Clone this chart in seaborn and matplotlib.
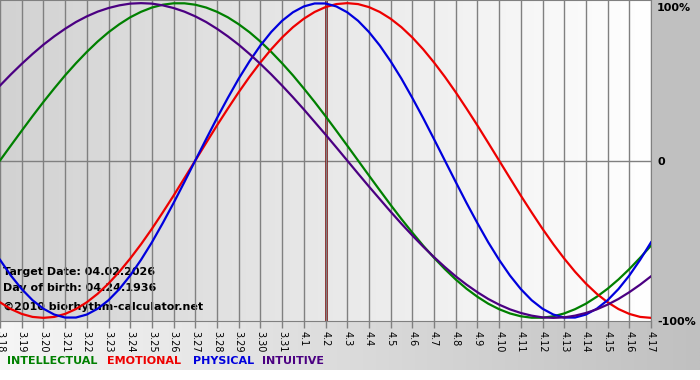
import numpy as np
import pandas as pd
import matplotlib.pyplot as plt
import seaborn as sns
from matplotlib.colors import LinearSegmentedColormap
from matplotlib.patches import Rectangle

# day labels (month.day) shown along the bottom
days = ["3.18", "3.19", "3.20", "3.21", "3.22", "3.23", "3.24", "3.25", "3.26", "3.27",
        "3.28", "3.29", "3.30", "3.31", "4.1", "4.2", "4.3", "4.4", "4.5", "4.6",
        "4.7", "4.8", "4.9", "4.10", "4.11", "4.12", "4.13", "4.14", "4.15", "4.16", "4.17"]
target = "4.2"

# cycle values (-1 .. 1) every half day, starting at 3.18
intellectual = [0.000, 0.095, 0.189, 0.282, 0.372, 0.458, 0.541, 0.618, 0.690, 0.756,
                0.815, 0.866, 0.910, 0.945, 0.972, 0.990, 0.999, 0.999, 0.990, 0.972,
                0.945, 0.910, 0.866, 0.815, 0.756, 0.690, 0.618, 0.541, 0.458, 0.372,
                0.282, 0.189, 0.095, 0.000, -0.095, -0.189, -0.282, -0.372, -0.458,
                -0.541, -0.618, -0.690, -0.756, -0.815, -0.866, -0.910, -0.945, -0.972,
                -0.990, -0.999, -0.999, -0.990, -0.972, -0.945, -0.910, -0.866, -0.815,
                -0.756, -0.690, -0.618, -0.541]
emotional = [-0.901, -0.944, -0.975, -0.994, -1.000, -0.994, -0.975, -0.944, -0.901,
             -0.847, -0.782, -0.707, -0.623, -0.532, -0.434, -0.330, -0.223, -0.112,
             0.000, 0.112, 0.223, 0.330, 0.434, 0.532, 0.623, 0.707, 0.782, 0.847, 0.901,
             0.944, 0.975, 0.994, 1.000, 0.994, 0.975, 0.944, 0.901, 0.847, 0.782, 0.707,
             0.623, 0.532, 0.434, 0.330, 0.223, 0.112, 0.000, -0.112, -0.223, -0.330,
             -0.434, -0.532, -0.623, -0.707, -0.782, -0.847, -0.901, -0.944, -0.975,
             -0.994, -1.000]
physical = [-0.631, -0.731, -0.817, -0.888, -0.942, -0.979, -0.998, -0.998, -0.979,
            -0.942, -0.888, -0.817, -0.731, -0.631, -0.520, -0.398, -0.270, -0.136,
            0.000, 0.136, 0.270, 0.398, 0.520, 0.631, 0.731, 0.817, 0.888, 0.942, 0.979,
            0.998, 0.998, 0.979, 0.942, 0.888, 0.817, 0.731, 0.631, 0.520, 0.398, 0.270,
            0.136, 0.000, -0.136, -0.270, -0.398, -0.520, -0.631, -0.731, -0.817, -0.888,
            -0.942, -0.979, -0.998, -0.998, -0.979, -0.942, -0.888, -0.817, -0.731,
            -0.631, -0.520]
intuitive = [0.476, 0.547, 0.614, 0.677, 0.736, 0.789, 0.837, 0.880, 0.916, 0.946, 0.969,
             0.986, 0.997, 1.000, 0.997, 0.986, 0.969, 0.946, 0.916, 0.880, 0.837, 0.789,
             0.736, 0.677, 0.614, 0.547, 0.476, 0.402, 0.325, 0.245, 0.165, 0.083, 0.000,
             -0.083, -0.165, -0.245, -0.325, -0.402, -0.476, -0.547, -0.614, -0.677,
             -0.736, -0.789, -0.837, -0.880, -0.916, -0.946, -0.969, -0.986, -0.997,
             -1.000, -0.997, -0.986, -0.969, -0.946, -0.916, -0.880, -0.837, -0.789,
             -0.736]

series = ["INTELLECTUAL", "EMOTIONAL", "PHYSICAL", "INTUITIVE"]
colors = {"INTELLECTUAL": "#008000", "EMOTIONAL": "#ee0000",
          "PHYSICAL": "#0000dd", "INTUITIVE": "#4b0082"}

half_days = np.arange(len(physical)) / 2
df = pd.concat([
    pd.DataFrame({"day": half_days, "value": vals, "cycle": name})
    for name, vals in zip(series, [intellectual, emotional, physical, intuitive])
])

W, H = 700, 380
fig = plt.figure(figsize=(7, 3.8), dpi=100)
fig.patch.set_facecolor("white")

# background in pixel coordinates: grey right margin, gradient strip at the bottom
bg = fig.add_axes([0, 0, 1, 1], zorder=-1)
bg.set_xlim(0, W)
bg.set_ylim(H, 0)
bg.axis("off")
strip = LinearSegmentedColormap.from_list("strip", ["#f6f6f6", "#c0c0c0"])
bg.imshow(np.linspace(0, 1, 256).reshape(1, -1), cmap=strip, aspect="auto",
          extent=[0, W, 370, 321])
bg.add_patch(Rectangle((651, 0), W - 651, 321, color="#c0c0c0", lw=0))

ax = fig.add_axes([0, 59 / H, 651 / W, 321 / H])
plot_bg = LinearSegmentedColormap.from_list("plotbg", ["#d2d2d2", "#ffffff"])
ax.imshow(np.linspace(0, 1, 256).reshape(1, -1), cmap=plot_bg, aspect="auto",
          extent=[0, len(days) - 1, -1.02, 1.02], zorder=0)

sns.lineplot(data=df, x="day", y="value", hue="cycle", palette=colors,
             hue_order=series, linewidth=1.6, legend=False, ax=ax, zorder=3)

ax.set_xlim(0, len(days) - 1)
ax.set_ylim(-1.02, 1.02)
ax.set_xticks(np.arange(len(days)))
ax.set_xticklabels(days, rotation=-90, fontsize=7)
ax.set_yticks([])
ax.set_xlabel("")
ax.set_ylabel("")
ax.tick_params(axis="x", length=5, width=1, color="#808080", pad=2)
ax.grid(axis="x", color="#808080", lw=1, zorder=1)
ax.set_axisbelow(False)
ax.axhline(0, color="#808080", lw=1, zorder=1)
ax.axvline(days.index(target), color="#800000", lw=2, alpha=0.9, zorder=2)
for s in ax.spines.values():
    s.set_color("#808080")
ax.spines["left"].set_visible(False)


def px(x, y):
    return x / W, 1 - y / H


# info text inside the plot
for y, txt in [(272, "Target Date: 04.02.2026"), (288, "Day of birth: 04.24.1936"),
               (307, "\u00a92010 biorhythm-calculator.net")]:
    ax.text(*px(3, y), txt, transform=fig.transFigure, fontsize=8, weight="bold",
            va="center", ha="left", zorder=2)

# percent labels on the right
for y, txt in [(8, "100%"), (162, "0"), (322, "-100%")]:
    fig.text(*px(657, y), txt, fontsize=8, weight="bold", va="center", ha="left")

# legend as coloured words
for x, name in zip([7, 107, 193, 262], series):
    fig.text(*px(x, 361), name, color=colors[name], fontsize=8, weight="bold",
             va="center", ha="left")

fig.savefig("out.png", dpi=100)
